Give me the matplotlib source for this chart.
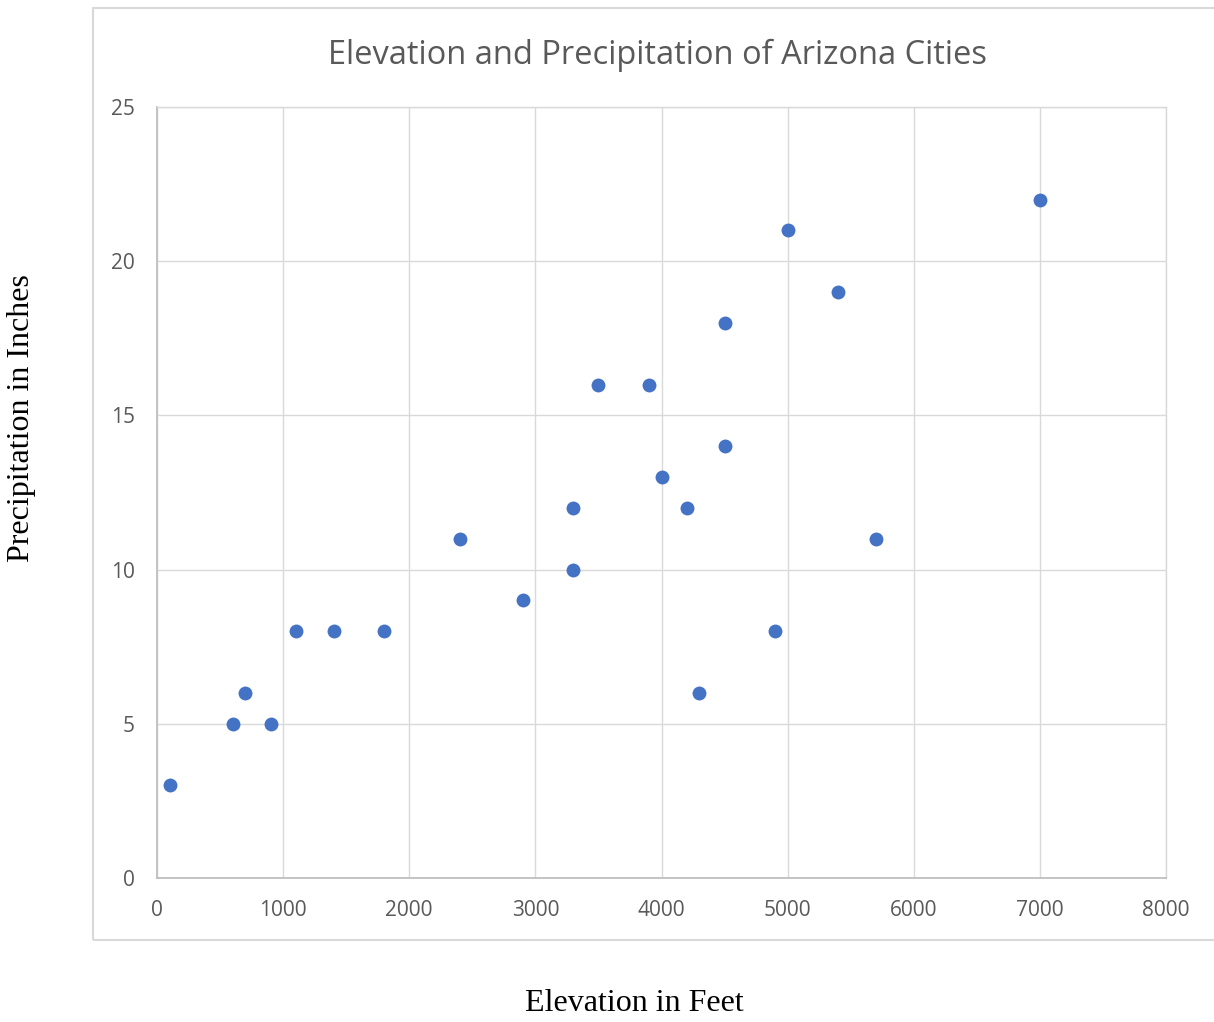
import matplotlib.pyplot as plt
from matplotlib.patches import Rectangle

# Arizona cities: elevation (ft) vs precipitation (in)
elevation = [100, 600, 700, 900, 1100, 1400, 1800, 2400, 2900, 3300, 3300,
             3500, 3900, 4000, 4200, 4300, 4500, 4500, 4900, 5000, 5400, 5700, 7000]
precip = [3, 5, 6, 5, 8, 8, 8, 11, 9, 12, 10,
          16, 16, 13, 12, 6, 18, 14, 8, 21, 19, 11, 22]

x_ticks = [0, 1000, 2000, 3000, 4000, 5000, 6000, 7000, 8000]
y_ticks = [0, 5, 10, 15, 20, 25]

W, H = 1214, 1022
fig = plt.figure(figsize=(W / 100, H / 100), dpi=100)

# chart area border
fig.patches.append(Rectangle((93 / W, 1 - 940 / H), 1.2, (940 - 8) / H,
                             transform=fig.transFigure, fill=False,
                             edgecolor='#d9d9d9', linewidth=1.5))

ax = fig.add_axes([157 / W, 1 - 878 / H, (1166 - 157) / W, (878 - 107) / H])
ax.scatter(elevation, precip, s=100, color='#4472c4', zorder=3, linewidths=0)

ax.set_xlim(0, 8000)
ax.set_ylim(0, 25)
ax.set_xticks(x_ticks)
ax.set_yticks(y_ticks)
ax.grid(True, color='#d9d9d9', linewidth=1.0)
ax.set_axisbelow(True)
for side in ['top', 'right']:
    ax.spines[side].set_color('#d9d9d9')
    ax.spines[side].set_linewidth(1.0)
for side in ['left', 'bottom']:
    ax.spines[side].set_color('#bfbfbf')
    ax.spines[side].set_linewidth(1.3)
ax.tick_params(length=0, labelsize=15, labelcolor='#595959', pad=16)
for lab in ax.get_xticklabels() + ax.get_yticklabels():
    lab.set_family('Open Sans')

fig.text(657 / W, 1 - 55 / H, 'Elevation and Precipitation of Arizona Cities',
         ha='center', va='center', fontsize=23.5, color='#595959', family='Open Sans')
fig.text(634 / W, 1 - 1003 / H, 'Elevation in Feet', ha='center', va='center',
         fontsize=23, family='Liberation Serif')
fig.text(22 / W, 1 - 418 / H, 'Precipitation in Inches', ha='center', va='center',
         rotation=90, fontsize=23, family='Liberation Serif')

fig.savefig('out.png', dpi=100)
